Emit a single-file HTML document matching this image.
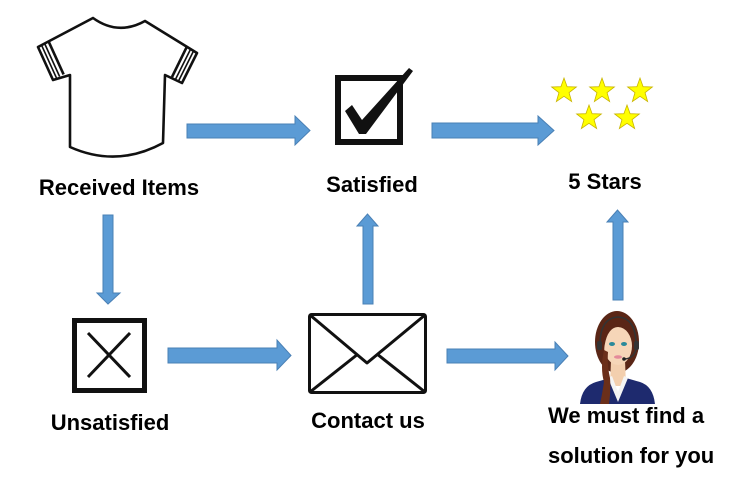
<!DOCTYPE html>
<html><head><meta charset="utf-8"><style>
html,body{margin:0;padding:0;background:#fff;}
svg{display:block;}
text{font-family:"Liberation Sans",Arial,sans-serif;font-weight:bold;font-size:22px;fill:#000;}
</style></head><body>
<svg width="750" height="482" viewBox="0 0 750 482" xmlns="http://www.w3.org/2000/svg">
<rect width="750" height="482" fill="#fff"/>
<!-- Shirt -->
<g fill="none" stroke="#111" stroke-width="2.6" stroke-linejoin="round">
<path d="M93,18 Q118,36 145,21 L197,53 L182,83 L165,75 L163,143 Q117,168 70,147 L70,75 L53,80 L38,47 Z" fill="#fff"/>
<line x1="41.5" y1="45.1" x2="56.5" y2="78.1" stroke-width="1.6"/>
<line x1="44.6" y1="43.5" x2="59.6" y2="76.5" stroke-width="1.6"/>
<line x1="48.6" y1="41.4" x2="63.6" y2="74.4"/>
<line x1="193.6" y1="50.9" x2="178.6" y2="80.9" stroke-width="1.6"/>
<line x1="190.6" y1="49.1" x2="175.6" y2="79.1" stroke-width="1.6"/>
<line x1="186.8" y1="46.8" x2="172" y2="77"/>
</g>
<text x="119" y="195" text-anchor="middle">Received Items</text>

<!-- Arrows -->
<g fill="#5b9bd5" stroke="#4a80b5" stroke-width="1">
<polygon points="187,124 295,124 295,116 310,130.5 295,145 295,138 187,138"/>
<polygon points="432,123 538,123 538,116 554,130.5 538,145 538,138 432,138"/>
<polygon points="103,215 113,215 113,293 120,293 108,304 97,293 103,293"/>
<polygon points="168,348 277,348 277,340 291,355.5 277,370 277,363 168,363"/>
<polygon points="363,304 363,226 357,226 367.5,214 378,226 373,226 373,304"/>
<polygon points="447,349 555,349 555,342 568,356 555,370 555,363 447,363"/>
<polygon points="613,300 613,222 607,222 617.5,210 628,222 623,222 623,300"/>
</g>

<!-- Checkbox -->
<rect x="338" y="78" width="62" height="64" fill="none" stroke="#111" stroke-width="6"/>
<polygon points="345,111 352,105 362,120 409,68 413,71 366,134 359,134" fill="#111"/>
<text x="372" y="192" text-anchor="middle">Satisfied</text>

<!-- Stars -->
<g fill="#ffff00" stroke="#c8b400" stroke-width="0.8">
<polygon transform="translate(564,91)" points="0,-13 3.12,-4.29 12.36,-4.02 5.04,1.64 7.64,10.52 0,5.3 -7.64,10.52 -5.04,1.64 -12.36,-4.02 -3.12,-4.29"/>
<polygon transform="translate(602,91)" points="0,-13 3.12,-4.29 12.36,-4.02 5.04,1.64 7.64,10.52 0,5.3 -7.64,10.52 -5.04,1.64 -12.36,-4.02 -3.12,-4.29"/>
<polygon transform="translate(640,91)" points="0,-13 3.12,-4.29 12.36,-4.02 5.04,1.64 7.64,10.52 0,5.3 -7.64,10.52 -5.04,1.64 -12.36,-4.02 -3.12,-4.29"/>
<polygon transform="translate(589,118)" points="0,-13 3.12,-4.29 12.36,-4.02 5.04,1.64 7.64,10.52 0,5.3 -7.64,10.52 -5.04,1.64 -12.36,-4.02 -3.12,-4.29"/>
<polygon transform="translate(627,118)" points="0,-13 3.12,-4.29 12.36,-4.02 5.04,1.64 7.64,10.52 0,5.3 -7.64,10.52 -5.04,1.64 -12.36,-4.02 -3.12,-4.29"/>
</g>
<text x="605" y="189" text-anchor="middle">5 Stars</text>

<!-- X box -->
<rect x="74.5" y="320.5" width="70" height="70" fill="none" stroke="#111" stroke-width="5"/>
<line x1="88" y1="333" x2="130" y2="377" stroke="#111" stroke-width="3"/>
<line x1="130" y1="333" x2="88" y2="377" stroke="#111" stroke-width="3"/>
<text x="110" y="430" text-anchor="middle">Unsatisfied</text>

<!-- Envelope -->
<g fill="none" stroke="#111" stroke-width="3" stroke-linejoin="round">
<rect x="309.5" y="314.5" width="116" height="78" rx="2"/>
<polyline points="310,315 367,363 425,315"/>
<line x1="310" y1="392" x2="358" y2="354"/>
<line x1="425" y1="392" x2="377" y2="354"/>
</g>
<text x="368" y="428" text-anchor="middle">Contact us</text>

<!-- Woman -->
<g>
<ellipse cx="617" cy="342" rx="22" ry="31" fill="#5a2616"/>
<path d="M611,360 L625,360 L626,386 L610,386 Z" fill="#f3cfae"/>
<path d="M580,404 Q582,386 596,382 L610,378 L618,395 L626,378 L640,382 Q653,386 655,404 Z" fill="#1e2a6e"/>
<path d="M608,378 L618,402 L628,378 L624,376 L618,392 L612,376 Z" fill="#f4f4f4"/>
<ellipse cx="618" cy="346" rx="14" ry="19" fill="#f6d6b8"/>
<path d="M602,345 Q600,320 618,318 Q636,318 634,340 Q628,326 616,327 Q606,330 604,350 Z" fill="#5a2616"/>
<path d="M604,350 Q600,368 604,382 Q602,395 600,404 L609,404 Q611,390 610,378 Q607,365 608,352 Z" fill="#6b2f1a"/>
<ellipse cx="612" cy="344" rx="3" ry="2" fill="#2a8a9a"/>
<ellipse cx="624" cy="344" rx="3" ry="2" fill="#2a8a9a"/>
<ellipse cx="618" cy="357" rx="4" ry="1.8" fill="#e48a9a"/>
<path d="M600,345 Q600,318 618,317 Q636,318 636,345" fill="none" stroke="#333" stroke-width="1.6"/>
<rect x="597" y="341" width="5" height="9" rx="2" fill="#333"/>
<rect x="634" y="341" width="5" height="9" rx="2" fill="#333"/>
<path d="M636,349 Q634,358 625,359" fill="none" stroke="#333" stroke-width="1.5"/>
<circle cx="624" cy="359" r="1.8" fill="#222"/>
</g>
<text x="548" y="423">We must find a</text>
<text x="548" y="463">solution for you</text>
</svg>
</body></html>
